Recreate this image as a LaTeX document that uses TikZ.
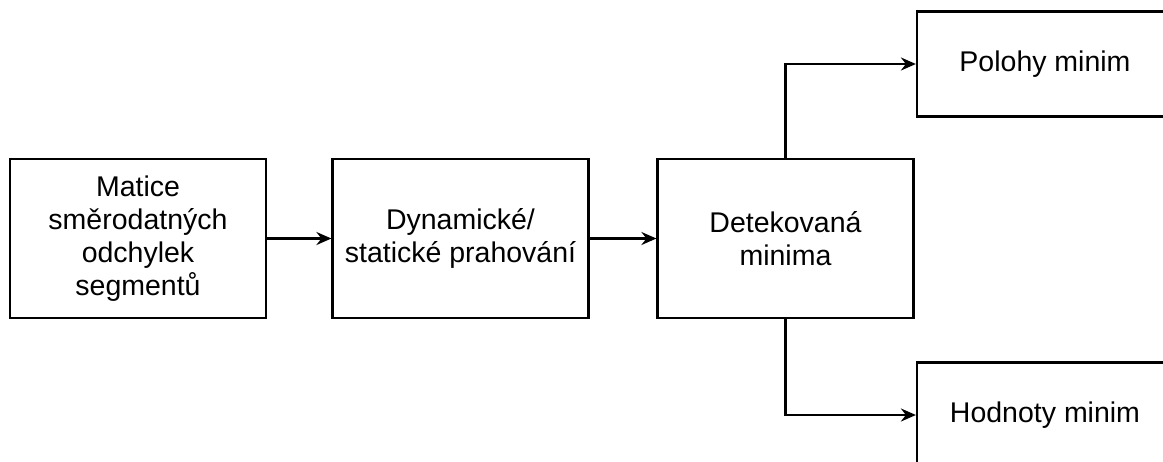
\documentclass[tikz,border=0pt]{standalone}
\usepackage{fontspec}
\setmainfont{Liberation Sans}
\usetikzlibrary{arrows.meta}
\begin{document}
\begin{tikzpicture}[x=1pt,y=-1pt,
  blockbox/.style={draw, line width=2.2pt, minimum height=159pt, minimum width=256pt,
    inner sep=0pt, align=center, font=\fontsize{28.5}{33}\selectfont},
  outbox/.style={blockbox, minimum height=105pt},
  flow/.style={line width=2.2pt, -{Stealth[length=15pt,width=13pt,inset=5pt]}}]
\useasboundingbox (0,0) rectangle (1163,461);
\clip (0,0) rectangle (1163,461);
\node[blockbox] (b1) at (138,238.5) {Matice\\směrodatných\\odchylek\\segmentů};
\node[blockbox] (b2) at (460.5,238.5) {Dynamické/\\statické prahování};
\node[blockbox] (b3) at (785.5,238.5) {Detekovaná\\minima};
\node[outbox] (b4) at (1045,64) {Polohy minim};
\node[outbox] (b5) at (1045,415) {Hodnoty minim};
\draw[flow] (b1.east) -- (b2.west);
\draw[flow] (b2.east) -- (b3.west);
\draw[flow] (b3.north) |- (b4.west);
\draw[flow] (b3.south) |- (b5.west);
\end{tikzpicture}
\end{document}
